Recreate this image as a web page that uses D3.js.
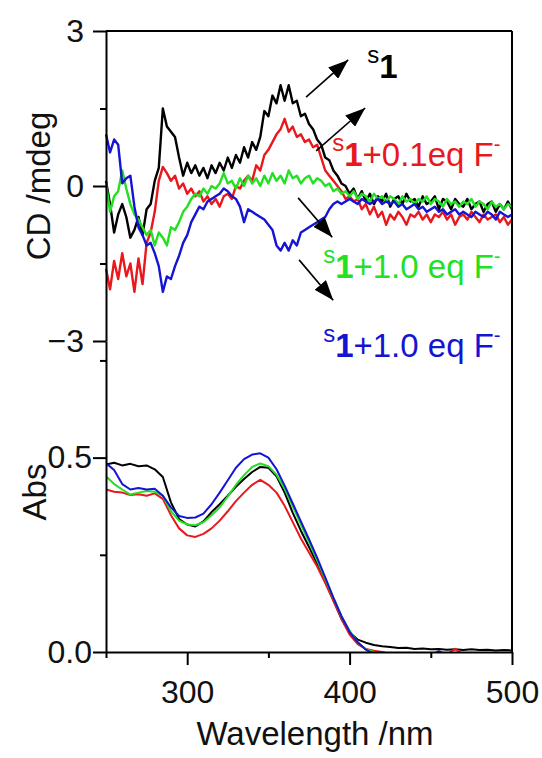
<!DOCTYPE html>
<html>
<head>
<meta charset="utf-8">
<script src="https://cdn.jsdelivr.net/npm/d3@7"></script>
<style>
  body { margin: 0; background: #fff; }
  svg text { font-family: Arial, "Liberation Sans", sans-serif; }
</style>
</head>
<body>
<svg id="chart" width="542" height="758"></svg>
<script>
// wavelength grid of the CD scans (nm)
const wlCD = [
  250, 252.5, 255, 257.5, 260, 262.5, 265, 267.5, 270, 272.5,
  275, 277.5, 280, 282.5, 285, 287.5, 290, 292.5, 295, 297.5,
  300, 302.5, 305, 307.5, 310, 312.5, 315, 317.5, 320, 322.5,
  325, 327.5, 330, 332.5, 335, 337.5, 340, 342.5, 345, 347.5,
  350, 352.5, 355, 357.5, 360, 362.5, 365, 367.5, 370, 372.5,
  375, 377.5, 380, 382.5, 385, 387.5, 390, 392.5, 395, 397.5,
  400, 402.5, 405, 407.5, 410, 412.5, 415, 417.5, 420, 422.5,
  425, 427.5, 430, 432.5, 435, 437.5, 440, 442.5, 445, 447.5,
  450, 452.5, 455, 457.5, 460, 462.5, 465, 467.5, 470, 472.5,
  475, 477.5, 480, 482.5, 485, 487.5, 490, 492.5, 495, 497.5,
  500
];

// CD (mdeg)
const cdS1 = [
  0.10, -0.35, -0.90, -0.55, -0.35, -0.60, -1.00, -0.85, -0.60, -0.95,
  -0.45, -0.35, 0.10, 0.35, 1.50, 1.15, 1.05, 0.95, 0.55, 0.20,
  0.45, 0.25, 0.40, 0.20, 0.35, 0.15, 0.40, 0.25, 0.45, 0.30,
  0.55, 0.35, 0.60, 0.45, 0.75, 0.55, 0.85, 0.70, 0.95, 1.45,
  1.35, 1.75, 1.60, 1.95, 1.65, 1.95, 1.60, 1.65, 1.35, 1.40,
  1.20, 1.10, 0.90, 0.80, 0.55, 0.50, 0.30, 0.20, 0.05, 0.00,
  -0.15, -0.05, -0.25, -0.10, -0.30, -0.15, -0.35, -0.20, -0.30, -0.15,
  -0.40, -0.25, -0.20, -0.35, -0.15, -0.30, -0.25, -0.40, -0.20, -0.35,
  -0.30, -0.20, -0.45, -0.25, -0.30, -0.45, -0.25, -0.35, -0.40, -0.25,
  -0.45, -0.35, -0.30, -0.50, -0.35, -0.30, -0.50, -0.35, -0.45, -0.30,
  -0.45
];
const cdF01 = [
  -1.60, -2.00, -1.45, -1.80, -1.30, -1.75, -1.50, -2.05, -1.40, -1.90,
  -1.10, -0.90, -0.50, 0.10, 0.37, 0.25, 0.10, 0.20, -0.05, 0.05,
  -0.15, -0.05, -0.20, -0.10, -0.30, -0.20, -0.35, -0.25, -0.40, -0.20,
  -0.15, -0.25, 0.00, -0.05, 0.10, 0.20, 0.10, 0.40, 0.30, 0.60,
  0.70, 0.85, 1.00, 1.10, 1.30, 1.05, 1.15, 0.95, 1.00, 0.85,
  0.90, 0.75, 0.80, 0.55, 0.30, 0.20, 0.10, 0.00, -0.10, -0.25,
  -0.20, -0.30, -0.25, -0.45, -0.35, -0.55, -0.40, -0.60, -0.50, -0.75,
  -0.55, -0.65, -0.50, -0.60, -0.75, -0.55, -0.60, -0.50, -0.65, -0.55,
  -0.70, -0.55, -0.60, -0.50, -0.65, -0.55, -0.75, -0.60, -0.55, -0.65,
  -0.50, -0.60, -0.70, -0.55, -0.65, -0.60, -0.55, -0.70, -0.60, -0.75,
  -0.65
];
const cdF10a = [
  0.05, -0.50, -0.20, -0.10, 0.30, -0.05, -0.35, -0.55, -0.65, -0.80,
  -0.95, -0.85, -1.15, -0.90, -1.00, -1.15, -0.80, -0.85, -0.70, -0.50,
  -0.40, -0.25, -0.15, -0.20, -0.05, -0.15, 0.00, -0.05, 0.05, 0.25,
  0.05, 0.10, -0.05, 0.15, 0.00, 0.20, 0.05, 0.15, 0.00, 0.20,
  0.05, 0.25, 0.10, 0.20, 0.05, 0.30, 0.15, 0.20, 0.05, 0.15,
  0.20, 0.05, 0.15, 0.10, 0.00, 0.05, -0.10, -0.05, -0.15, -0.10,
  -0.20, -0.10, -0.25, -0.15, -0.20, -0.30, -0.15, -0.25, -0.20, -0.30,
  -0.20, -0.25, -0.35, -0.20, -0.30, -0.25, -0.35, -0.25, -0.30, -0.20,
  -0.35, -0.25, -0.30, -0.40, -0.25, -0.35, -0.30, -0.40, -0.30, -0.35,
  -0.25, -0.40, -0.30, -0.35, -0.45, -0.30, -0.40, -0.35, -0.45, -0.35,
  -0.40
];
const cdF10b = [
  1.00, 0.65, 0.90, 0.80, 0.05, 0.15, 0.20, -0.40, -0.80, -0.95,
  -1.15, -1.10, -1.30, -1.55, -2.05, -1.75, -1.80, -1.55, -1.35, -1.10,
  -0.95, -0.70, -0.55, -0.40, -0.45, -0.30, -0.25, -0.20, -0.15, -0.05,
  -0.10, -0.20, -0.25, -0.40, -0.70, -0.45, -0.50, -0.55, -0.60, -0.65,
  -0.75, -0.85, -1.15, -1.25, -1.10, -1.25, -1.05, -1.15, -0.90, -0.85,
  -0.80, -0.75, -0.70, -0.65, -0.60, -0.45, -0.35, -0.30, -0.35, -0.30,
  -0.25, -0.30, -0.35, -0.25, -0.30, -0.35, -0.30, -0.25, -0.35, -0.30,
  -0.35, -0.30, -0.40, -0.35, -0.45, -0.40, -0.35, -0.45, -0.40, -0.50,
  -0.45, -0.40, -0.50, -0.45, -0.55, -0.50, -0.45, -0.55, -0.50, -0.55,
  -0.60, -0.50, -0.55, -0.60, -0.50, -0.55, -0.65, -0.50, -0.55, -0.60,
  -0.55
];

// wavelength grid of the absorption spectra (nm)
const wlAbs = [
  250, 255, 260, 265, 270, 275, 280, 285, 290, 295,
  300, 305, 310, 315, 320, 325, 330, 335, 340, 345,
  350, 355, 360, 365, 370, 375, 380, 385, 390, 395,
  400, 405, 410, 415, 420, 425, 430, 435, 440, 445,
  450, 455, 460, 465, 470, 475, 480, 485, 490, 495,
  500
];
const absS1 = [
  0.482, 0.487, 0.480, 0.484, 0.478, 0.480, 0.470, 0.450, 0.385, 0.342,
  0.328, 0.323, 0.336, 0.360, 0.380, 0.402, 0.425, 0.445, 0.463, 0.476,
  0.474, 0.452, 0.410, 0.358, 0.312, 0.270, 0.228, 0.180, 0.133, 0.085,
  0.050, 0.032, 0.024, 0.018, 0.015, 0.013, 0.010, 0.011, 0.008, 0.009,
  0.007, 0.008, 0.006, 0.007, 0.005, 0.007, 0.005, 0.006, 0.004, 0.005,
  0.004
];
const absF01 = [
  0.418, 0.412, 0.410, 0.404, 0.406, 0.402, 0.408, 0.394, 0.352, 0.318,
  0.300, 0.296, 0.304, 0.318, 0.338, 0.362, 0.388, 0.410, 0.430, 0.443,
  0.430, 0.410, 0.376, 0.334, 0.292, 0.256, 0.220, 0.178, 0.132, 0.085,
  0.045, 0.020, 0.008, 0.003, 0.000, -0.005, -0.006, -0.005, -0.006, -0.005,
  -0.006, -0.005, -0.006, 0.008, -0.006, -0.005, -0.006, -0.005, -0.006, -0.005,
  -0.006
];
const absF10a = [
  0.452, 0.432, 0.418, 0.405, 0.410, 0.414, 0.412, 0.402, 0.362, 0.338,
  0.328, 0.326, 0.334, 0.352, 0.372, 0.400, 0.430, 0.455, 0.476, 0.485,
  0.478, 0.456, 0.420, 0.375, 0.328, 0.283, 0.236, 0.188, 0.140, 0.092,
  0.055, 0.025, 0.007, 0.000, -0.004, -0.005, -0.006, -0.005, -0.006, -0.005,
  -0.006, -0.005, -0.006, -0.005, -0.006, -0.005, -0.006, -0.005, -0.006, -0.005,
  -0.006
];
const absF10b = [
  0.486, 0.468, 0.432, 0.418, 0.422, 0.418, 0.420, 0.402, 0.372, 0.350,
  0.345, 0.346, 0.356, 0.380, 0.410, 0.442, 0.474, 0.496, 0.508, 0.511,
  0.500, 0.470, 0.428, 0.382, 0.336, 0.290, 0.243, 0.192, 0.140, 0.092,
  0.052, 0.025, 0.006, -0.005, -0.008, -0.008, -0.008, -0.008, -0.008, -0.008,
  -0.008, 0.002, -0.008, -0.008, -0.008, -0.008, -0.008, -0.008, -0.008, -0.008,
  -0.008
];

const seriesColors = ["#000000", "#e8181c", "#22e022", "#1414d2"];

// ticks
const cdTicks = [-3, -1.5, 0, 1.5, 3];
const cdLabelled = [-3, 0, 3];
const absTicks = [0, 0.25, 0.5, 0.75];
const absLabelled = [0, 0.5];
const wlTicks = [250, 300, 350, 400, 450, 500];
const wlLabelled = [300, 400, 500];

// annotations: label texts, anchor points [nm, mdeg], arrows [nm, mdeg, nm, mdeg]
const noteTexts = ["", "+0.1eq F", "+1.0 eq F", "+1.0 eq F"];
const notePos = [[410.8, 2.09], [389.3, 0.39], [383.7, -1.78], [383.7, -3.31]];
const arrows = [
  [373.2, 1.72, 399.1, 2.44],
  [379.4, 0.68, 409.6, 1.51],
  [368.3, -0.23, 389.3, -0.99],
  [368.9, -1.43, 389.9, -2.21]
];

const svg = d3.select("#chart");

const x = d3.scaleLinear().domain([250, 500]).range([106, 512]);
const yCD = d3.scaleLinear().domain([-3, 3]).range([341, 31]);
const yAbs = d3.scaleLinear().domain([0, 0.8]).range([652, 341]);

const defs = svg.append("defs");
defs.append("clipPath").attr("id", "absClip")
  .append("rect").attr("x", 106).attr("y", 341).attr("width", 406).attr("height", 311);

defs.append("marker")
  .attr("id", "head")
  .attr("viewBox", "0 0 20 15")
  .attr("refX", 20).attr("refY", 7.5)
  .attr("markerUnits", "userSpaceOnUse")
  .attr("markerWidth", 20).attr("markerHeight", 15)
  .attr("orient", "auto")
  .append("path").attr("d", "M0,0L20,7.5L0,15z").attr("fill", "#000");

// CD spectra
const cdLine = d3.line().x((d, i) => x(wlCD[i])).y(d => yCD(d));
[cdS1, cdF01, cdF10a, cdF10b].forEach((s, k) => {
  svg.append("path")
    .attr("d", cdLine(s))
    .attr("fill", "none")
    .attr("stroke", seriesColors[k])
    .attr("stroke-width", 2.4)
    .attr("stroke-linejoin", "round");
});

// absorption spectra
const absLine = d3.line().x((d, i) => x(wlAbs[i])).y(d => yAbs(d));
[absS1, absF01, absF10a, absF10b].forEach((s, k) => {
  svg.append("path")
    .attr("d", absLine(s))
    .attr("clip-path", "url(#absClip)")
    .attr("fill", "none")
    .attr("stroke", seriesColors[k])
    .attr("stroke-width", 2)
    .attr("stroke-linejoin", "round");
});

// frame: top and right border
svg.append("line").attr("x1", 106).attr("x2", 512).attr("y1", 31).attr("y2", 31)
  .attr("stroke", "#000").attr("stroke-width", 2);
svg.append("line").attr("x1", 512).attr("x2", 512).attr("y1", 31).attr("y2", 652)
  .attr("stroke", "#000").attr("stroke-width", 2);

function styleAxis(g, labelled, minorSize, horizontal) {
  g.selectAll("path.domain").attr("stroke-width", 2);
  g.selectAll(".tick line").attr("stroke-width", 2);
  g.selectAll(".tick").each(function (d) {
    if (!labelled.includes(d)) {
      d3.select(this).select("line").attr(horizontal ? "y2" : "x2", horizontal ? minorSize : -minorSize);
    }
  });
  g.selectAll("text").attr("font-size", 32).attr("fill", "#111");
}

const fmtCD = d3.format("d");
const fmtAbs = d3.format(".1f");

svg.append("g").attr("transform", "translate(106,0)")
  .call(d3.axisLeft(yCD).tickValues(cdTicks).tickSize(13).tickSizeOuter(0).tickPadding(9)
    .tickFormat(d => cdLabelled.includes(d) ? fmtCD(d) : ""))
  .call(g => styleAxis(g, cdLabelled, 6, false));

svg.append("g").attr("transform", "translate(106,0)")
  .call(d3.axisLeft(yAbs).tickValues(absTicks).tickSize(13).tickSizeOuter(0).tickPadding(1)
    .tickFormat(d => absLabelled.includes(d) ? fmtAbs(d) : ""))
  .call(g => styleAxis(g, absLabelled, 6, false));

svg.append("g").attr("transform", "translate(0,652)")
  .call(d3.axisBottom(x).tickValues(wlTicks).tickSize(13).tickSizeOuter(0).tickPadding(15)
    .tickFormat(d => wlLabelled.includes(d) ? d : ""))
  .call(g => styleAxis(g, wlLabelled, 6, true));

// axis titles
svg.append("text").attr("x", 315).attr("y", 745).attr("text-anchor", "middle")
  .attr("font-size", 33).attr("fill", "#111").text("Wavelength /nm");
svg.append("text").attr("transform", "translate(50,186) rotate(-90)").attr("text-anchor", "middle")
  .attr("font-size", 33).attr("fill", "#111").text("CD /mdeg");
svg.append("text").attr("transform", "translate(46,492) rotate(-90)").attr("text-anchor", "middle")
  .attr("font-size", 33).attr("fill", "#111").text("Abs");

// arrows
arrows.forEach(a => {
  svg.append("line")
    .attr("x1", x(a[0])).attr("y1", yCD(a[1]))
    .attr("x2", x(a[2])).attr("y2", yCD(a[3]))
    .attr("stroke", "#000").attr("stroke-width", 1.6)
    .attr("marker-end", "url(#head)");
});

// series labels
noteTexts.forEach((t, k) => {
  const txt = svg.append("text")
    .attr("x", x(notePos[k][0])).attr("y", yCD(notePos[k][1]))
    .attr("fill", seriesColors[k]);
  txt.append("tspan").attr("font-size", 24).attr("dy", -15).text("s");
  txt.append("tspan").attr("font-size", 33).attr("font-weight", "bold").attr("dy", 15).text("1");
  if (t) {
    txt.append("tspan").attr("font-size", 33).text(t);
    txt.append("tspan").attr("font-size", 20).attr("dy", -15).text("-");
  }
});
</script>
</body>
</html>
